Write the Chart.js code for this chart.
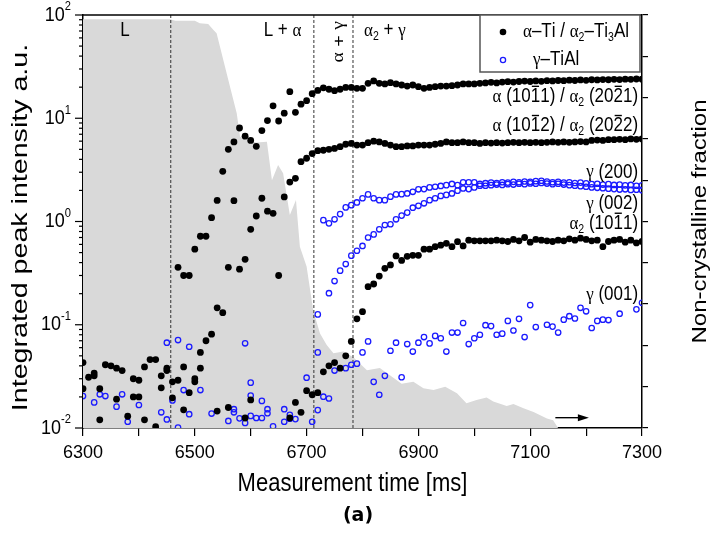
<!DOCTYPE html>
<html>
<head>
<meta charset="utf-8">
<script src="https://cdn.jsdelivr.net/npm/chart.js@4.4.1/dist/chart.umd.min.js"></script>
<style>
  html, body { margin: 0; padding: 0; background: #fff; }
  #wrap { width: 716px; height: 540px; position: relative; }
</style>
</head>
<body>
<div id="wrap"><canvas id="chart"></canvas></div>
<script>
// measurement time [ms], integrated intensity [a.u.]
const alpha1011 = [
  [6470,0.36],[6480,0.30],[6490,0.30],[6500,0.54],[6510,0.72],[6520,0.72],[6530,1.09],[6540,1.60],
  [6550,3.06],[6560,5.0],[6570,5.9],[6580,8.05],[6590,6.7],[6600,6.1],[6610,5.35],[6620,7.6],
  [6630,9.5],[6640,13.2],[6650,9.4],[6660,11.2],[6670,18.1],[6680,11.4],[6690,13.7],[6700,14.8],
  [6710,17.3],[6720,18.6],[6730,19.7],[6740,19.1],[6750,18.5],[6760,19.1],[6770,19.9],[6780,19.9],
  [6790,19.5],[6800,19.5],[6810,21.8],[6820,23.0],[6830,21.8],[6840,21.5],[6850,22.1],[6860,21.5],
  [6870,21.0],[6880,20.5],[6890,21.0],[6900,20.2],[6910,19.5],[6920,19.9],[6930,20.2],[6940,20.5],
  [6950,20.5],[6960,20.7],[6970,21.0],[6980,21.5],[6990,21.5],[7000,21.5],[7010,21.8],[7020,22.0],
  [7030,22.3],[7040,22.0],[7050,22.4],[7060,22.6],[7070,22.4],[7080,22.7],[7090,22.9],[7100,22.7],
  [7110,23.0],[7120,22.8],[7130,23.1],[7140,23.0],[7150,23.2],[7160,23.1],[7170,23.4],[7180,23.2],
  [7190,23.5],[7200,23.3],[7210,23.6],[7220,23.5],[7230,23.7],[7240,23.6],[7250,23.8],[7260,23.7],
  [7270,23.9],[7280,23.8],[7290,24.0],[7300,23.9]
];
const alpha1012 = [
  [6500,0.030],[6510,0.054],[6520,0.070],[6530,0.081],[6540,0.146],[6550,0.131],[6560,0.36],[6570,1.59],
  [6580,0.345],[6590,0.43],[6600,0.84],[6610,1.13],[6620,1.68],[6630,1.26],[6640,1.20],[6650,0.30],
  [6660,1.73],[6670,2.41],[6680,2.62],[6690,3.8],[6700,4.1],[6710,4.55],[6720,4.85],[6730,4.9],
  [6740,5.0],[6750,5.1],[6760,5.3],[6770,5.6],[6780,5.7],[6790,5.5],[6800,5.5],[6810,5.8],
  [6820,6.0],[6830,5.9],[6840,5.7],[6850,5.5],[6860,5.3],[6870,5.3],[6880,5.4],[6890,5.4],
  [6900,5.5],[6910,5.5],[6920,5.5],[6930,5.6],[6940,5.7],[6950,5.9],[6960,5.8],[6970,5.8],
  [6980,5.9],[6990,5.8],[7000,5.8],[7010,5.7],[7020,5.8],[7030,5.75],[7040,5.8],[7050,5.75],
  [7060,5.8],[7070,5.85],[7080,5.8],[7090,5.85],[7100,5.8],[7110,5.85],[7120,5.8],[7130,5.85],
  [7140,5.9],[7150,5.85],[7160,5.9],[7170,5.85],[7180,5.9],[7190,5.95],[7200,5.9],[7210,6.1],
  [7220,6.15],[7230,6.1],[7240,6.2],[7250,6.2],[7260,6.25],[7270,6.2],[7280,6.3],[7290,6.25],[7300,6.3]
];
const alpha2_1011 = [
  [6700,0.023],[6710,0.021],[6720,0.022],[6730,0.035],[6740,0.040],[6750,0.043],[6760,0.038],[6770,0.050],
  [6780,0.069],[6790,0.114],[6800,0.134],[6810,0.234],[6820,0.248],[6830,0.296],[6840,0.352],[6850,0.38],
  [6860,0.464],[6870,0.42],[6880,0.46],[6890,0.47],[6900,0.47],[6910,0.54],[6920,0.54],[6930,0.57],
  [6940,0.59],[6950,0.615],[6960,0.57],[6970,0.637],[6980,0.58],[6990,0.66],[7000,0.65],[7010,0.65],
  [7020,0.65],[7030,0.65],[7040,0.66],[7050,0.65],[7060,0.64],[7070,0.67],[7080,0.65],[7090,0.70],
  [7100,0.63],[7110,0.67],[7120,0.66],[7130,0.65],[7140,0.64],[7150,0.66],[7160,0.65],[7170,0.68],
  [7180,0.66],[7190,0.69],[7200,0.67],[7210,0.65],[7220,0.66],[7230,0.57],[7240,0.64],[7250,0.66],
  [7260,0.67],[7270,0.63],[7280,0.66],[7290,0.62],[7300,0.64]
];
const alphaEarly = [
  [6300,0.043],[6300,0.024],[6310,0.031],[6320,0.034],[6320,0.032],[6330,0.024],[6330,0.012],[6340,0.041],
  [6350,0.040],[6360,0.038],[6360,0.019],[6370,0.036],[6380,0.013],[6390,0.030],[6390,0.020],[6400,0.029],
  [6400,0.020],[6410,0.039],[6410,0.012],[6420,0.046],[6430,0.046],[6430,0.0103],[6440,0.032],[6440,0.0245],
  [6450,0.038],[6450,0.036],[6460,0.028],[6460,0.0196],[6470,0.029],[6480,0.039],[6480,0.015],[6490,0.022],
  [6500,0.028],[6510,0.038],[6540,0.0146],[6560,0.0158],[6590,0.0125],[6600,0.0187],[6670,0.0125],
  [6680,0.0177],[6690,0.0142]
];
const gamma200 = [
  [6730,1.03],[6740,0.96],[6750,1.05],[6760,1.18],[6770,1.37],[6780,1.44],[6790,1.53],[6800,1.68],
  [6810,1.83],[6820,1.68],[6830,1.61],[6840,1.61],[6850,1.74],[6860,1.83],[6870,1.84],[6880,1.87],
  [6890,1.94],[6900,2.05],[6910,2.06],[6920,2.14],[6930,2.17],[6940,2.21],[6950,2.25],[6960,2.31],
  [6970,2.25],[6980,2.40],[6990,2.40],[7000,2.40],[7010,2.31],[7020,2.35],[7030,2.38],[7040,2.36],
  [7050,2.40],[7060,2.38],[7070,2.42],[7080,2.40],[7090,2.44],[7100,2.42],[7110,2.46],[7120,2.48],
  [7130,2.44],[7140,2.40],[7150,2.42],[7160,2.38],[7170,2.40],[7180,2.36],[7190,2.38],[7200,2.34],
  [7210,2.30],[7220,2.32],[7230,2.28],[7240,2.30],[7250,2.26],[7260,2.28],[7270,2.24],[7280,2.26],
  [7290,2.22],[7300,2.24]
];
const gamma002 = [
  [6720,0.126],[6740,0.202],[6750,0.265],[6760,0.334],[6770,0.387],[6780,0.467],[6790,0.521],[6800,0.58],
  [6810,0.70],[6820,0.75],[6830,0.84],[6840,0.925],[6850,0.94],[6860,1.05],[6870,1.14],[6880,1.22],
  [6890,1.36],[6900,1.42],[6910,1.50],[6920,1.61],[6930,1.68],[6940,1.77],[6950,1.81],[6960,1.87],
  [6970,1.99],[6980,2.09],[6990,2.06],[7000,2.14],[7010,2.22],[7020,2.22],[7030,2.25],[7040,2.28],
  [7050,2.26],[7060,2.30],[7070,2.28],[7080,2.32],[7090,2.30],[7100,2.34],[7110,2.32],[7120,2.36],
  [7130,2.33],[7140,2.30],[7150,2.32],[7160,2.28],[7170,2.25],[7180,2.22],[7190,2.20],[7200,2.17],
  [7210,2.14],[7220,2.12],[7230,2.10],[7240,2.08],[7250,2.06],[7260,2.04],[7270,2.05],[7280,2.02],
  [7290,2.03],[7300,2.01]
];
const gamma001 = [
  [6750,0.036],[6770,0.038],[6780,0.041],[6790,0.042],[6800,0.054],[6810,0.069],[6820,0.028],[6830,0.021],
  [6840,0.032],[6850,0.056],[6860,0.067],[6870,0.031],[6880,0.065],[6890,0.055],[6900,0.067],[6910,0.076],
  [6920,0.066],[6930,0.078],[6940,0.074],[6950,0.055],[6960,0.084],[6970,0.084],[6980,0.104],[6990,0.065],
  [7000,0.074],[7010,0.080],[7020,0.099],[7030,0.097],[7040,0.080],[7050,0.082],[7060,0.109],[7070,0.088],
  [7080,0.114],[7090,0.076],[7100,0.155],[7110,0.095],[7130,0.100],[7140,0.096],[7150,0.084],[7160,0.112],
  [7170,0.121],[7180,0.115],[7190,0.146],[7200,0.135],[7210,0.093],[7220,0.109],[7230,0.112],[7240,0.111],
  [7260,0.128],[7290,0.141],[7300,0.163]
];
const gammaEarly = [
  [6300,0.0204],[6320,0.0177],[6330,0.0212],[6340,0.0204],[6360,0.0161],[6370,0.0212],[6380,0.0115],[6400,0.0167],
  [6440,0.0142],[6450,0.067],[6450,0.0121],[6460,0.0185],[6470,0.0711],[6470,0.0101],[6480,0.0233],[6490,0.0612],
  [6490,0.0136],[6510,0.0233],[6530,0.0138],[6560,0.0117],[6570,0.0152],[6570,0.0142],[6580,0.0124],[6590,0.0661],
  [6590,0.0112],[6600,0.0275],[6600,0.0206],[6600,0.0131],[6610,0.0125],[6620,0.0183],[6620,0.0125],[6630,0.0152],
  [6630,0.0139],[6640,0.0104],[6660,0.0152],[6660,0.0115],[6670,0.0134],[6670,0.0123],[6680,0.0122],[6700,0.0307],
  [6710,0.0115],[6720,0.0149],[6720,0.054],[6730,0.0201],[6740,0.0193]
];
// non-crystalline fraction (right axis, 0..1)
const amorphousFraction = [
  [6300,0.990],[6456,0.990],[6465,0.986],[6500,0.986],[6509,0.980],[6524,0.978],[6533,0.964],[6539,0.956],
  [6551,0.891],[6563,0.826],[6575,0.762],[6581,0.705],[6593,0.697],[6610,0.691],[6629,0.693],[6638,0.600],
  [6649,0.637],[6658,0.617],[6670,0.516],[6681,0.552],[6688,0.439],[6700,0.391],[6712,0.283],[6724,0.229],
  [6736,0.201],[6748,0.181],[6766,0.185],[6784,0.171],[6808,0.140],[6831,0.145],[6849,0.128],[6870,0.107],
  [6891,0.112],[6909,0.096],[6927,0.092],[6948,0.100],[6969,0.084],[6986,0.060],[7004,0.068],[7022,0.074],
  [7034,0.064],[7058,0.053],[7070,0.058],[7088,0.048],[7106,0.039],[7130,0.023],[7141,0.019],[7150,0.000]
];

const xMin = 6300, xMax = 7300, xStep = 100, xLabelStep = 200;
const yDecades = [0.01, 0.1, 1, 10, 100];
const yMinorFactors = [2, 3, 4, 5, 6, 7, 8, 9];
const phaseBounds = [6457, 6713, 6783];
const phaseLabels = [
  { text: "L", t: 6375, v: 70 },
  { text: "L + α", t: 6657, v: 70 },
  { text: "α + γ", t: 6758, v: 55, rotate: true },
  { text: "α_2 + γ", t: 6840, v: 70 }
];
const peakLabels = [
  { text: "α (10~11) / α_2 (20~21)", v: 16.1 },
  { text: "α (10~12) / α_2 (20~22)", v: 8.4 },
  { text: "γ (200)", v: 3.0 },
  { text: "γ (002)", v: 1.48 },
  { text: "α_2 (10~11)", v: 0.95 },
  { text: "γ (001)", v: 0.194 }
];
const peakLabelTime = 7293;
const legendItems = ["α–Ti / α_2–Ti_3Al", "γ–TiAl"];
const arrowSpan = [7145, 7205];
const arrowLevel = 0.025;

const BLUE = "#1a1aff";
const SANS = '"Liberation Sans", Arial, sans-serif';
const SERIF = '"Liberation Serif", "Times New Roman", serif';

const toXY = arr => arr.map(p => ({ x: p[0], y: p[1] }));

// very small markup: _x subscript, ^{..} superscript, ~x overbar
function parseRich(str) {
  const segs = [];
  for (let i = 0; i < str.length; i++) {
    const c = str[i];
    if (c === "_") { segs.push({ text: str[++i], kind: "sub" }); }
    else if (c === "~") { segs.push({ text: str[++i], kind: "", bar: true }); }
    else if (c === "^") {
      const end = str.indexOf("}", i);
      segs.push({ text: str.slice(i + 2, end), kind: "sup" });
      i = end;
    } else segs.push({ text: c, kind: "" });
  }
  return segs;
}

function fontFor(seg, size, weight) {
  const s = seg.kind ? size * 0.62 : size;
  const fam = /[α-ω]/.test(seg.text) ? SERIF : SANS;
  return `${weight || "normal"} ${s}px ${fam}`;
}

function drawRich(ctx, str, x, y, opt) {
  const size = opt.size;
  const segs = parseRich(str);
  ctx.save();
  ctx.translate(x, y);
  ctx.scale(1, opt.stretch || 1);
  if (opt.rotate) ctx.rotate(opt.rotate);
  ctx.textBaseline = "middle";
  ctx.textAlign = "left";
  ctx.fillStyle = opt.color || "#000";
  let total = 0;
  segs.forEach(s => {
    ctx.font = fontFor(s, size, opt.weight);
    s.w = ctx.measureText(s.text).width;
    total += s.w;
  });
  let cx = opt.align === "right" ? -total : opt.align === "center" ? -total / 2 : 0;
  segs.forEach(s => {
    ctx.font = fontFor(s, size, opt.weight);
    const dy = s.kind === "sub" ? size * 0.3 : s.kind === "sup" ? -size * 0.4 : 0;
    ctx.fillText(s.text, cx, dy);
    if (s.bar) {
      ctx.strokeStyle = ctx.fillStyle;
      ctx.lineWidth = 1.2;
      ctx.beginPath();
      ctx.moveTo(cx + s.w * 0.12, -size * 0.54);
      ctx.lineTo(cx + s.w * 0.88, -size * 0.54);
      ctx.stroke();
    }
    cx += s.w;
  });
  ctx.restore();
}

const decorPlugin = {
  id: "decor",
  afterDatasetDraw(chart, args) {
    if (args.index !== 0) return;
    const { ctx, chartArea, scales } = chart;
    ctx.save();
    ctx.strokeStyle = "#333";
    ctx.lineWidth = 1;
    ctx.setLineDash([3, 2]);
    phaseBounds.forEach(t => {
      const px = scales.x.getPixelForValue(t);
      ctx.beginPath();
      ctx.moveTo(px, chartArea.top);
      ctx.lineTo(px, chartArea.bottom);
      ctx.stroke();
    });
    ctx.restore();
  },
  afterDraw(chart) {
    const { ctx, chartArea, scales } = chart;
    const x = scales.x, y = scales.y, y2 = scales.y2;
    ctx.save();
    // top frame line
    ctx.strokeStyle = "#000";
    ctx.lineWidth = 1.5;
    ctx.beginPath();
    ctx.moveTo(chartArea.left, chartArea.top);
    ctx.lineTo(chartArea.right, chartArea.top);
    ctx.stroke();
    // log ticks on the left axis
    ctx.lineWidth = 1.2;
    yDecades.forEach(d => {
      const py = y.getPixelForValue(d);
      ctx.beginPath();
      ctx.moveTo(chartArea.left - 8, py);
      ctx.lineTo(chartArea.left, py);
      ctx.stroke();
      drawRich(ctx, "10^{" + Math.round(Math.log10(d)) + "}", chartArea.left - 12, py, { size: 18, align: "right", stretch: 1.15 });
      if (d < 100) {
        yMinorFactors.forEach(m => {
          const pm = y.getPixelForValue(d * m);
          ctx.beginPath();
          ctx.moveTo(chartArea.left - 4, pm);
          ctx.lineTo(chartArea.left, pm);
          ctx.stroke();
        });
      }
    });
    // phase labels
    phaseLabels.forEach(l => {
      drawRich(ctx, l.text, x.getPixelForValue(l.t), y.getPixelForValue(l.v), {
        size: 17, align: "center", stretch: 1.15, rotate: l.rotate ? -Math.PI / 2 : 0
      });
    });
    // peak labels
    peakLabels.forEach(l => {
      drawRich(ctx, l.text, x.getPixelForValue(peakLabelTime), y.getPixelForValue(l.v), { size: 17, align: "right", stretch: 1.15 });
    });
    // legend
    const lx = chartArea.right - 162, ly = chartArea.top;
    ctx.fillStyle = "#fff";
    ctx.fillRect(lx, ly, 160, 57);
    ctx.strokeStyle = "#555";
    ctx.lineWidth = 1.5;
    ctx.strokeRect(lx, ly, 160, 57);
    ctx.fillStyle = "#000";
    ctx.beginPath();
    ctx.arc(lx + 23, ly + 17, 3.3, 0, Math.PI * 2);
    ctx.fill();
    ctx.strokeStyle = BLUE;
    ctx.lineWidth = 1.3;
    ctx.beginPath();
    ctx.arc(lx + 23, ly + 45, 2.6, 0, Math.PI * 2);
    ctx.stroke();
    drawRich(ctx, legendItems[0], lx + 43, ly + 17, { size: 17, stretch: 1.15 });
    drawRich(ctx, legendItems[1], lx + 53, ly + 45, { size: 17, stretch: 1.15 });
    // arrow pointing to the right axis
    const ay = y2.getPixelForValue(arrowLevel);
    const ax0 = x.getPixelForValue(arrowSpan[0]), ax1 = x.getPixelForValue(arrowSpan[1]);
    ctx.strokeStyle = "#000";
    ctx.fillStyle = "#000";
    ctx.lineWidth = 1.4;
    ctx.beginPath();
    ctx.moveTo(ax0, ay);
    ctx.lineTo(ax1 - 8, ay);
    ctx.stroke();
    ctx.beginPath();
    ctx.moveTo(ax1, ay);
    ctx.lineTo(ax1 - 11, ay - 3.5);
    ctx.lineTo(ax1 - 11, ay + 3.5);
    ctx.closePath();
    ctx.fill();
    // axis titles
    const midY = (chartArea.top + chartArea.bottom) / 2;
    drawRich(ctx, "Integrated peak intensity a.u.", 21, midY + 6, { size: 22, align: "center", stretch: 1.3, rotate: -Math.PI / 2 });
    drawRich(ctx, "Non-crystalline fraction", 700, midY, { size: 20, align: "center", stretch: 1.2, rotate: -Math.PI / 2 });
    drawRich(ctx, "Measurement time [ms]", (chartArea.left + chartArea.right) / 2 - 10, 484, { size: 22, align: "center", stretch: 1.15 });
    ctx.font = 'bold 19px "DejaVu Sans", sans-serif';
    ctx.textAlign = "center";
    ctx.textBaseline = "middle";
    ctx.fillStyle = "#000";
    ctx.fillText("(a)", 358, 516);
    ctx.restore();
  }
};

const blackStyle = { backgroundColor: "#000", borderColor: "#000", borderWidth: 0, pointRadius: 3.4, pointHoverRadius: 3.4 };
const blueStyle = { backgroundColor: "rgba(0,0,0,0)", borderColor: BLUE, borderWidth: 1.3, pointRadius: 2.7, pointHoverRadius: 2.7 };

new Chart(document.getElementById("chart"), {
  type: "scatter",
  data: {
    datasets: [
      {
        type: "line", label: "Non-crystalline fraction", data: toXY(amorphousFraction), yAxisID: "y2",
        fill: "origin", backgroundColor: "#d9d9d9", borderWidth: 0, pointRadius: 0, tension: 0, order: 2
      },
      { label: "alpha early", data: toXY(alphaEarly), ...blackStyle, order: 1 },
      { label: "alpha (10-11)", data: toXY(alpha1011), ...blackStyle, order: 1 },
      { label: "alpha (10-12)", data: toXY(alpha1012), ...blackStyle, order: 1 },
      { label: "alpha2 (10-11)", data: toXY(alpha2_1011), ...blackStyle, order: 1 },
      { label: "gamma early", data: toXY(gammaEarly), ...blueStyle, order: 1 },
      { label: "gamma (200)", data: toXY(gamma200), ...blueStyle, order: 1 },
      { label: "gamma (002)", data: toXY(gamma002), ...blueStyle, order: 1 },
      { label: "gamma (001)", data: toXY(gamma001), ...blueStyle, order: 1 }
    ]
  },
  options: {
    responsive: true,
    maintainAspectRatio: false,
    animation: false,
    layout: { padding: { top: 15, left: 0, right: 0, bottom: 0 } },
    scales: {
      x: {
        type: "linear",
        min: xMin,
        max: xMax,
        position: "bottom",
        border: { display: true, color: "#000", width: 1.5 },
        grid: { drawOnChartArea: false, drawTicks: true, tickLength: 8, color: "#000", lineWidth: 1.2 },
        ticks: {
          stepSize: xStep,
          autoSkip: false,
          maxRotation: 0,
          padding: 6,
          color: "#000",
          font: { family: SANS, size: 18 },
          callback: v => ((v - xMin) % xLabelStep === 0 ? String(v) : "")
        },
        afterFit: s => { s.height = 112; }
      },
      y: {
        type: "logarithmic",
        min: yDecades[0],
        max: yDecades[yDecades.length - 1],
        position: "left",
        border: { display: true, color: "#000", width: 1.5 },
        grid: { display: false },
        ticks: { display: false },
        afterFit: s => { s.width = 83; }
      },
      y2: {
        type: "linear",
        min: 0,
        max: 1,
        position: "right",
        border: { display: true, color: "#000", width: 1.5 },
        grid: { drawOnChartArea: false, drawTicks: true, tickLength: 6, color: "#000", lineWidth: 1.2 },
        ticks: { display: false, stepSize: 0.1 },
        afterFit: s => { s.width = 74; }
      }
    },
    plugins: {
      legend: { display: false },
      tooltip: { enabled: false }
    }
  },
  plugins: [decorPlugin]
});
</script>
</body>
</html>
